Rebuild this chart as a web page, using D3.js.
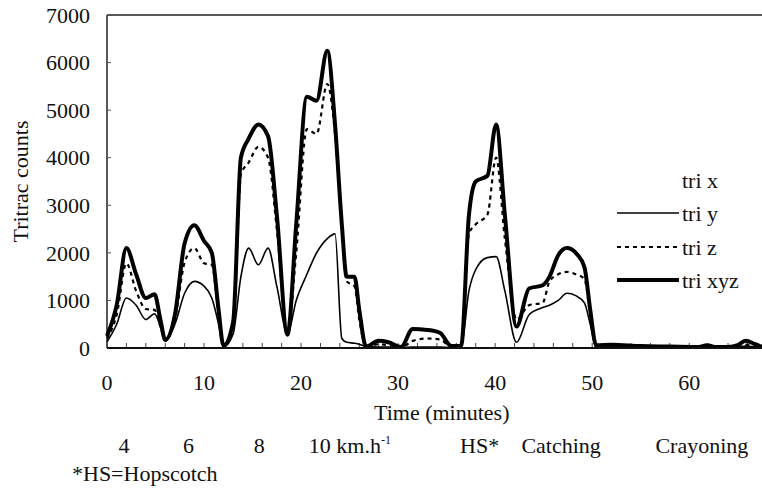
<!DOCTYPE html>
<html>
<head>
<meta charset="utf-8">
<script src="https://cdn.jsdelivr.net/npm/d3@7"></script>
<style>
  html, body { margin: 0; padding: 0; background: #fff; }
  svg { display: block; }
  text { font-family: "Liberation Serif", "Times New Roman", serif; fill: #111; }
</style>
</head>
<body>
<svg id="chart" width="762" height="488"></svg>
<script>
// ---- data ----
const minutes = [0, 1, 2, 3, 4, 4.9, 5.5, 6, 7, 8, 9, 10, 10.8, 11.5, 12, 13, 13.8, 14.6, 15.6, 16.6, 17.5, 18.6, 19.5, 20.6, 21.6, 22.7, 23.5, 24.2, 24.7, 25.5, 26, 26.7, 28, 29, 30.3, 31.5, 33, 34.3, 35.5, 36.5, 37.3, 38, 39.2, 40.1, 41, 42.2, 43.5, 44.9, 45.6, 46.5, 47.4, 48.3, 49.2, 49.8, 50.4, 52, 55, 58, 61, 61.8, 62.8, 64, 65, 65.8, 66.8, 67.5];

const triY = [130, 500, 1050, 900, 600, 720, 450, 150, 500, 1150, 1400, 1300, 1050, 500, 20, 300, 1500, 2100, 1750, 2100, 1300, 300, 1000, 1550, 2000, 2300, 2400, 200, 120, 100, 80, 30, 20, 20, 10, 20, 20, 20, 10, 30, 1200, 1650, 1900, 1920, 1200, 120, 700, 850, 900, 1000, 1150, 1100, 950, 500, 20, 20, 20, 10, 10, 20, 10, 10, 20, 40, 20, 10];

const triZ = [200, 700, 1780, 1200, 820, 800, 450, 150, 600, 1800, 2100, 1780, 1750, 700, 40, 350, 3650, 3900, 4230, 4000, 2500, 300, 2000, 4600, 4500, 5550, 4500, 2600, 1400, 1300, 600, 20, 80, 60, 10, 150, 200, 180, 20, 30, 2400, 2600, 2800, 4000, 2300, 600, 900, 950, 1400, 1550, 1600, 1550, 1450, 700, 30, 20, 20, 20, 20, 40, 20, 20, 30, 70, 40, 20];

const triXYZ = [250, 900, 2100, 1550, 1050, 1130, 600, 170, 700, 2200, 2580, 2250, 2000, 800, 50, 550, 4000, 4400, 4700, 4450, 2800, 280, 2600, 5280, 5200, 6250, 4700, 2600, 1500, 1500, 800, 30, 150, 120, 20, 400, 380, 320, 40, 50, 2800, 3500, 3620, 4700, 2800, 450, 1250, 1320, 1500, 1950, 2100, 2000, 1700, 800, 60, 70, 40, 30, 20, 60, 20, 20, 60, 150, 80, 20];

const seriesNames = ["tri x", "tri y", "tri z", "tri xyz"];
const yTicks = [0, 1000, 2000, 3000, 4000, 5000, 6000, 7000];
const xTickLabels = [0, 10, 20, 30, 40, 50, 60];
const xMinorTicks = d3.range(0, 68, 2);
const activityLabels = ["4", "6", "8", "10 km.h", "HS*", "Catching", "Crayoning"];
const activityTimes = [1.75, 8.4, 15.7, 20.8, 38.4, 46.8, 61.3];
const footnote = "*HS=Hopscotch";

// ---- layout ----
const svg = d3.select("#chart");
const mLeft = 107, mRight = 762, mTop = 15, mBottom = 348;

const x = d3.scaleLinear().domain([0, 67.5]).range([mLeft, mRight]);
const y = d3.scaleLinear().domain([0, 7000]).range([mBottom, mTop]);

// frame
svg.append("line").attr("x1", mLeft).attr("x2", mRight).attr("y1", mTop).attr("y2", mTop)
  .attr("stroke", "#222").attr("stroke-width", 1.5);
svg.append("line").attr("x1", mLeft).attr("x2", mLeft).attr("y1", mTop).attr("y2", mBottom)
  .attr("stroke", "#222").attr("stroke-width", 1.5);

// y ticks (inward) + labels
svg.selectAll(".ytick").data(yTicks).enter().append("line")
  .attr("x1", mLeft).attr("x2", mLeft + 4)
  .attr("y1", d => y(d)).attr("y2", d => y(d))
  .attr("stroke", "#555").attr("stroke-width", 1);
svg.selectAll(".ylab").data(yTicks).enter().append("text")
  .attr("x", 90).attr("y", d => y(d))
  .attr("dy", "0.35em").attr("text-anchor", "end")
  .style("font-size", "22px").text(d => d);

// x minor ticks (inward)
svg.selectAll(".xtick").data(xMinorTicks).enter().append("line")
  .attr("x1", d => x(d)).attr("x2", d => x(d))
  .attr("y1", mBottom).attr("y2", mBottom - 5)
  .attr("stroke", "#444").attr("stroke-width", 1);

svg.selectAll(".xlab").data(xTickLabels).enter().append("text")
  .attr("x", d => x(d)).attr("y", 390)
  .attr("text-anchor", "middle")
  .style("font-size", "22px").text(d => d);

// axis titles
svg.append("text").attr("x", x(34.5)).attr("y", 420).attr("text-anchor", "middle")
  .style("font-size", "22px").text("Time (minutes)");
svg.append("text").attr("transform", "translate(28," + y(3500) + ") rotate(-90)")
  .attr("text-anchor", "middle").style("font-size", "22px").text("Tritrac counts");

// lines
const line = d3.line().x((d, i) => x(minutes[i])).y(d => y(d)).curve(d3.curveMonotoneX);
const g = svg.append("g");
g.append("path").datum(triY).attr("d", line).attr("fill", "none")
  .attr("stroke", "#000").attr("stroke-width", 1.6);
g.append("path").datum(triZ).attr("d", line).attr("fill", "none")
  .attr("stroke", "#000").attr("stroke-width", 2.2).attr("stroke-dasharray", "4,4");
g.append("path").datum(triXYZ).attr("d", line).attr("fill", "none")
  .attr("stroke", "#000").attr("stroke-width", 4).attr("stroke-linejoin", "round");

// bottom axis line (drawn over)
svg.append("line").attr("x1", mLeft).attr("x2", mRight).attr("y1", mBottom).attr("y2", mBottom)
  .attr("stroke", "#111").attr("stroke-width", 2);

// legend
const legendY = [180, 213, 247, 280];
const legendStyles = [
  { w: 0, dash: null },
  { w: 1.6, dash: null },
  { w: 2.2, dash: "4,4" },
  { w: 4, dash: null }
];
seriesNames.forEach((name, i) => {
  if (legendStyles[i].w > 0) {
    const l = svg.append("line").attr("x1", 617).attr("x2", 679)
      .attr("y1", legendY[i]).attr("y2", legendY[i])
      .attr("stroke", "#000").attr("stroke-width", legendStyles[i].w);
    if (legendStyles[i].dash) l.attr("stroke-dasharray", legendStyles[i].dash);
  }
  svg.append("text").attr("x", 682).attr("y", legendY[i]).attr("dy", "0.35em")
    .style("font-size", "22px").text(name);
});

// activity labels
activityLabels.forEach((lab, i) => {
  const t = svg.append("text").attr("x", x(activityTimes[i])).attr("y", 453)
    .attr("text-anchor", i === 3 ? "start" : "middle")
    .style("font-size", "22px").text(lab);
  if (i === 3) {
    t.append("tspan").attr("dy", -9).style("font-size", "12px").text("-1");
  }
});
svg.append("text").attr("x", 72).attr("y", 481).style("font-size", "22px").text(footnote);
</script>
</body>
</html>
